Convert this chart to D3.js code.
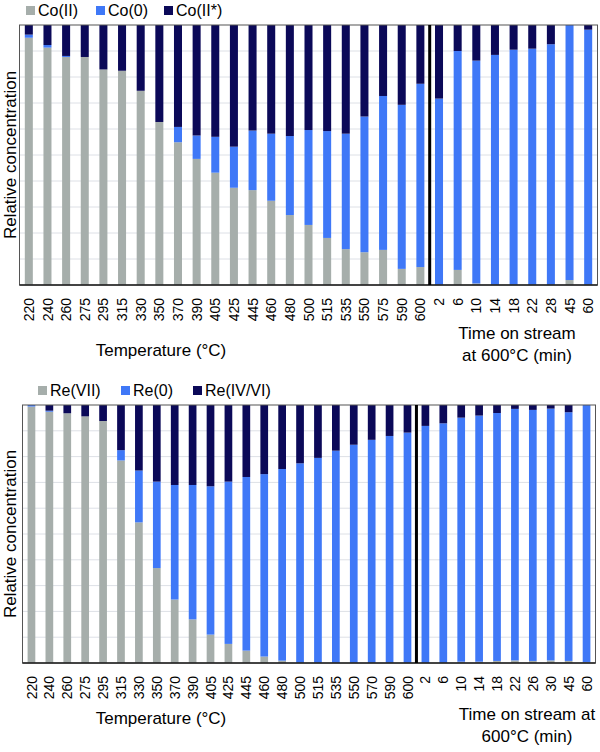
<!DOCTYPE html>
<html>
<head>
<meta charset="utf-8">
<script src="https://cdn.jsdelivr.net/npm/d3@7"></script>
<style>
body{margin:0;background:#fff;}
svg{display:block;font-family:"Liberation Sans",Arial,sans-serif;}
</style>
</head>
<body>
<svg id="chart" width="600" height="752"></svg>
<script>
// ---------- Data ----------
const coCategories = ["220","240","260","275","295","315","330","350","370","390","405","425","445","460","480","500","515","535","550","575","590","600",
  "2","6","10","14","18","22","28","45","60"];
const coTempCount = 22;
const coSeriesNames = ["Co(II)","Co(0)","Co(II*)"];
const coII = [0.951,0.913,0.877,0.877,0.829,0.824,0.747,0.627,0.549,0.485,0.432,0.374,0.365,0.324,0.269,0.231,0.181,0.138,0.126,0.135,0.062,0.069,
  0.000,0.058,0.006,0.000,0.000,0.000,0.000,0.019,0.000];
const co0 = [0.012,0.010,0.004,0.000,0.000,0.000,0.000,0.000,0.059,0.090,0.138,0.158,0.229,0.258,0.304,0.365,0.411,0.444,0.522,0.592,0.631,0.705,
  0.717,0.842,0.857,0.885,0.905,0.909,0.926,0.981,0.982];

const reCategories = ["220","240","260","275","295","315","330","350","370","390","405","425","445","460","480","500","515","535","550","570","590","600",
  "2","6","10","14","18","22","26","30","45","60"];
const reTempCount = 22;
const reSeriesNames = ["Re(VII)","Re(0)","Re(IV/VI)"];
const reVII = [0.994,0.974,0.968,0.956,0.938,0.785,0.545,0.368,0.246,0.169,0.110,0.074,0.048,0.025,0.009,0.000,0.000,0.000,0.000,0.000,0.000,0.000,
  0.000,0.000,0.005,0.005,0.008,0.010,0.008,0.010,0.008,0.004];
const re0 = [0.006,0.004,0.000,0.000,0.000,0.040,0.201,0.335,0.444,0.521,0.575,0.629,0.673,0.707,0.743,0.774,0.795,0.823,0.846,0.865,0.880,0.893,
  0.919,0.929,0.946,0.954,0.961,0.975,0.973,0.976,0.964,0.996];

const yTicks = [0,0.1,0.2,0.3,0.4,0.5,0.6,0.7,0.8,0.9,1.0];
const colors = ["#a6aeab","#3f78f7","#0b0958"];

// ---------- Drawing ----------
const svg = d3.select("#chart");

function drawPanel(cfg){
  const {cats, tempCount, names, s1, s2, left, right, top, bottom, legendXs, legendY, tempX, xTitleY, timeLines, timeX, timeY} = cfg;
  const g = svg.append("g");
  const x = d3.scaleBand().domain(cats.map((c,i)=>i)).range([left,right]).paddingInner(0.57).paddingOuter(0.285);
  const y = d3.scaleLinear().domain([0,1]).range([bottom,top]);

  // gridlines
  g.selectAll("line.grid").data(yTicks.slice(1,-1)).join("line")
    .attr("x1",left).attr("x2",right)
    .attr("y1",d=>y(d)).attr("y2",d=>y(d))
    .attr("stroke","#dde0e6").attr("stroke-width",1);

  // stacked data
  const rows = cats.map((c,i)=>({i, a:s1[i], b:s2[i], c:Math.max(0,1-s1[i]-s2[i])}));
  const stack = d3.stack().keys(["a","b","c"])(rows);
  stack.forEach((layer,k)=>{
    g.append("g").selectAll("rect").data(layer).join("rect")
      .attr("x",d=>x(d.data.i))
      .attr("width",x.bandwidth())
      .attr("y",d=>y(d[1]))
      .attr("height",d=>Math.max(0,y(d[0])-y(d[1])))
      .attr("fill",colors[k]);
  });

  // frame
  g.append("rect").attr("x",left).attr("y",top).attr("width",right-left).attr("height",bottom-top)
    .attr("fill","none").attr("stroke","#555").attr("stroke-width",1);
  g.append("line").attr("x1",left).attr("x2",right).attr("y1",bottom).attr("y2",bottom)
    .attr("stroke","#222").attr("stroke-width",1.5);

  // separator
  const sepX = x(tempCount) - x.step()*x.paddingInner()/2;
  g.append("line").attr("x1",sepX).attr("x2",sepX).attr("y1",top).attr("y2",bottom)
    .attr("stroke","#000").attr("stroke-width",3);

  // x tick labels
  g.selectAll("text.tick").data(cats).join("text")
    .attr("transform",(d,i)=>`translate(${x(i)+x.bandwidth()/2},${bottom+13}) rotate(-90)`)
    .attr("text-anchor","end").attr("dy","0.36em")
    .attr("font-size",14).attr("fill","#000")
    .text(d=>d);

  // y title
  g.append("text").attr("transform",`translate(15.5,${(top+bottom)/2}) rotate(-90)`)
    .attr("text-anchor","middle").attr("font-size",17).attr("fill","#000")
    .text("Relative concentration");

  // x titles
  g.append("text").attr("x",tempX).attr("y",xTitleY).attr("text-anchor","middle")
    .attr("font-size",17).attr("fill","#000").text("Temperature (°C)");
  timeLines.forEach((t,k)=>{
    g.append("text").attr("x",timeX).attr("y",timeY + k*22).attr("text-anchor","middle")
      .attr("font-size",17).attr("fill","#000").text(t);
  });

  // legend
  names.forEach((n,k)=>{
    const lx = legendXs[k];
    g.append("rect").attr("x",lx).attr("y",legendY-10).attr("width",9).attr("height",9).attr("fill",colors[k]);
    g.append("text").attr("x",lx+12).attr("y",legendY).attr("font-size",16).attr("fill","#000").text(n);
  });
}

drawPanel({cats:coCategories, tempCount:coTempCount, names:coSeriesNames, s1:coII, s2:co0,
  left:19.5, right:597.5, top:25, bottom:285,
  legendXs:[26,96,164], legendY:16, tempX:161, xTitleY:356,
  timeLines:["Time on stream","at 600°C (min)"], timeX:517, timeY:339});

drawPanel({cats:reCategories, tempCount:reTempCount, names:reSeriesNames, s1:reVII, s2:re0,
  left:22.5, right:595.5, top:405, bottom:663,
  legendXs:[38,121,193], legendY:396, tempX:161, xTitleY:724,
  timeLines:["Time on stream at","600°C (min)"], timeX:527, timeY:720});
</script>
</body>
</html>
